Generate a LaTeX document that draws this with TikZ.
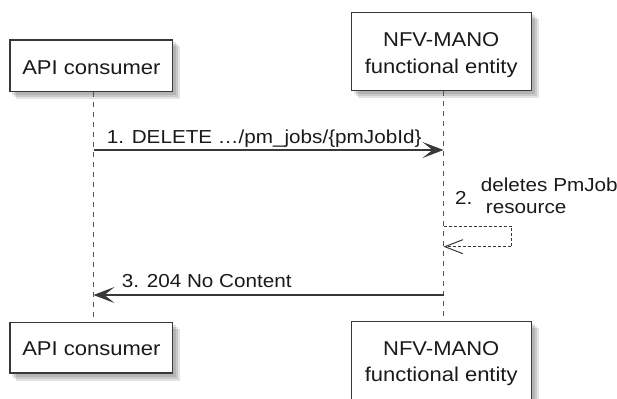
\documentclass[tikz,border=0pt]{standalone}
\usepackage{fontspec}
\setmainfont{Liberation Sans}[FakeStretch=1.1]
\usetikzlibrary{arrows.meta,backgrounds}
\definecolor{lineC}{HTML}{383838}
\definecolor{lifeC}{HTML}{555555}
\definecolor{textC}{HTML}{1A1A1A}
\tikzset{
  pbox/.style={draw=lineC, line width=1.5pt, fill=white, inner sep=0pt},
  shadowlayer/.style={fill=black, fill opacity=0.11},
  ptext/.style={inner sep=0pt, anchor=base, text=textC, font=\fontsize{20pt}{24pt}\selectfont},
  mtext/.style={inner sep=0pt, anchor=base west, text=textC, font=\fontsize{18.8pt}{22pt}\selectfont},
  lifeline/.style={draw=lifeC, line width=1pt, dash pattern=on 5pt off 5pt},
  msg/.style={draw=lineC, line width=1.2pt, -{Stealth[length=21pt,width=16pt,inset=10pt]}},
  reply/.style={draw=lineC, line width=1pt, dash pattern=on 3pt off 2pt,
     -{Straight Barb[length=18pt,width=14pt,line width=1pt]}}
}
\newcommand{\boxshadow}[1]{%
  \foreach \d in {3,5,7}{%
    \fill[shadowlayer] ([shift={(\d,\d)}]#1.south west) rectangle ([shift={(\d,\d)}]#1.north east);}}
\begin{document}
\begin{tikzpicture}[x=1pt,y=-1pt]
\useasboundingbox (0,0) rectangle (617,398);
\clip (0,0) rectangle (617,398);
% participants (top)
\node[pbox, minimum width=162.7pt, minimum height=51.7pt] (c1) at (91.35,65.85) {};
\node[pbox, minimum width=180pt, minimum height=78pt] (e1) at (441.7,51.7) {};
% participants (bottom)
\node[pbox, minimum width=162.7pt, minimum height=50.5pt] (c2) at (91.35,347.75) {};
\node[pbox, minimum width=180pt, minimum height=78pt] (e2) at (441.7,360.7) {};
\begin{pgfonlayer}{background}
  \boxshadow{c1}\boxshadow{e1}\boxshadow{c2}\boxshadow{e2}
\end{pgfonlayer}
% lifelines
\draw[lifeline] ([xshift=2.15pt]c1.south) -- ([xshift=2.15pt]c2.north);
\draw[lifeline] ([xshift=1.8pt]e1.south) -- ([xshift=1.8pt]e2.north);
% participant texts
\node[ptext] (c1t) at (91.35,75) {API consumer};
\node[ptext] (e1t1) at (441.2,46.7) {NFV-MANO};
\node[ptext] (e1t2) at (441.2,73.3) {functional entity};
\node[ptext] (c2t) at (91.35,355.7) {API consumer};
\node[ptext] (e2t1) at (441.2,355) {NFV-MANO};
\node[ptext] (e2t2) at (441.2,381.7) {functional entity};
% message anchor points on lifelines
\coordinate (m1s) at (93.5,150);
\coordinate (m1e) at (443.5,150);
\coordinate (m2s) at (443.5,226);
\coordinate (m2r) at (511.7,226);
\coordinate (m2b) at (511.7,246.7);
\coordinate (m2e) at (443.5,246.7);
\coordinate (m3s) at (443.5,295);
\coordinate (m3e) at (93.5,295);
% messages
\draw[msg] (m1s) -- (m1e);
\node[mtext] (l1) at (106.7,143.3) {1. DELETE …/pm\_jobs/\{pmJobId\}};
\draw[reply] (m2s) -- (m2r) -- (m2b) -- (m2e);
\node[mtext] (l2n) at (455,204.3) {2.};
\node[mtext] (l2a) at (480.7,191) {deletes PmJob};
\node[mtext] (l2b) at (485.7,213.3) {resource};
\draw[msg] (m3s) -- (m3e);
\node[mtext] (l3) at (121.7,287.7) {3. 204 No Content};
\end{tikzpicture}
\end{document}
